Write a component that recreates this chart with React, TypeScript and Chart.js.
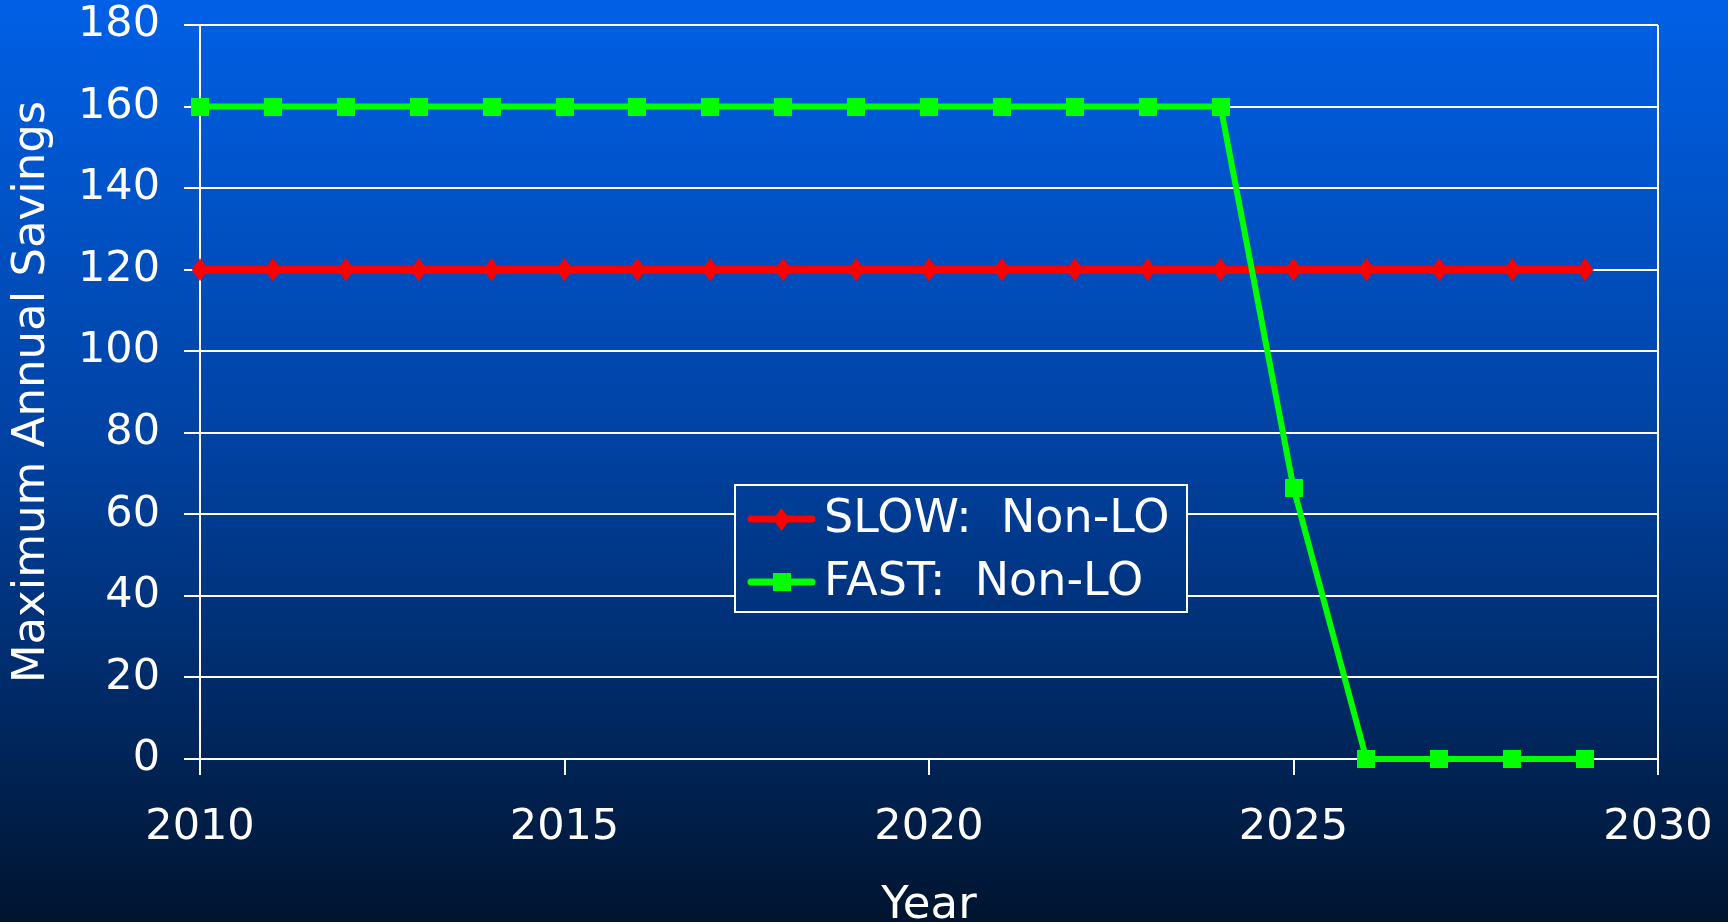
import React, { useEffect, useRef } from "react";
import { Chart, registerables } from "chart.js";

Chart.register(...registerables);

const years = [2010, 2011, 2012, 2013, 2014, 2015, 2016, 2017, 2018, 2019, 2020, 2021, 2022, 2023, 2024, 2025, 2026, 2027, 2028, 2029];
const slowValues = [120, 120, 120, 120, 120, 120, 120, 120, 120, 120, 120, 120, 120, 120, 120, 120, 120, 120, 120, 120];
const fastValues = [160, 160, 160, 160, 160, 160, 160, 160, 160, 160, 160, 160, 160, 160, 160, 66.5, 0, 0, 0, 0];
const seriesLabels = ["SLOW:  Non-LO", "FAST:  Non-LO"];
const xTicks = [2010, 2015, 2020, 2025, 2030];
const yTicks = [0, 20, 40, 60, 80, 100, 120, 140, 160, 180];

const W = 1728;
const H = 922;
const FONT = "'DejaVu Sans', Verdana, sans-serif";

function makeDiamond(color: string, w: number, h: number) {
  const c = document.createElement("canvas");
  c.width = w;
  c.height = h;
  const x = c.getContext("2d")!;
  x.fillStyle = color;
  x.beginPath();
  x.moveTo(w / 2, 0);
  x.lineTo(w, h / 2);
  x.lineTo(w / 2, h);
  x.lineTo(0, h / 2);
  x.closePath();
  x.fill();
  return c;
}

function makeSquare(color: string, s: number) {
  const c = document.createElement("canvas");
  c.width = s;
  c.height = s;
  const x = c.getContext("2d")!;
  x.fillStyle = color;
  x.fillRect(0, 0, s, s);
  return c;
}

function makeBg(ctx: CanvasRenderingContext2D) {
  const g = ctx.createLinearGradient(0, 0, 0, H);
  g.addColorStop(0, "#0060e6");
  g.addColorStop(0.5, "#00419f");
  g.addColorStop(1, "#00142f");
  return g;
}

const bgPlugin = {
  id: "bgPlugin",
  beforeDraw(chart: any) {
    const ctx = chart.ctx;
    ctx.save();
    ctx.fillStyle = makeBg(ctx);
    ctx.fillRect(0, 0, chart.width, chart.height);
    ctx.restore();
  },
};

const legendPlugin = {
  id: "customLegend",
  afterDraw(chart: any) {
    const ctx: CanvasRenderingContext2D = chart.ctx;
    const bx = 735, by = 485, bw = 452, bh = 127;
    ctx.save();
    ctx.fillStyle = makeBg(ctx);
    ctx.fillRect(bx, by, bw, bh);
    ctx.strokeStyle = "#ffffff";
    ctx.lineWidth = 2;
    ctx.strokeRect(bx, by, bw, bh);
    const rows = [519, 582];
    chart.data.datasets.forEach((ds: any, i: number) => {
      const y = rows[i];
      ctx.strokeStyle = ds.borderColor;
      ctx.lineWidth = 7;
      ctx.lineCap = "round";
      ctx.beginPath();
      ctx.moveTo(751, y);
      ctx.lineTo(812, y);
      ctx.stroke();
      const img = ds.pointStyle as HTMLCanvasElement;
      const cx = 781.5;
      ctx.drawImage(img, Math.round(cx - img.width / 2), Math.round(y - img.height / 2));
      ctx.fillStyle = "#ffffff";
      ctx.font = `46px ${FONT}`;
      ctx.textBaseline = "middle";
      ctx.textAlign = "left";
      ctx.fillText(ds.label, 824, y + 1);
    });
    ctx.restore();
  },
};

function zeroPad(s: any) {
  s.paddingTop = 0;
  s.paddingBottom = 0;
  s.paddingLeft = 0;
  s.paddingRight = 0;
}

export default function App() {
  const ref = useRef<HTMLCanvasElement>(null);

  useEffect(() => {
    if (!ref.current) return;
    const diamond = makeDiamond("#ff0000", 17, 23);
    const square = makeSquare("#00ff00", 18);
    const chart = new Chart(ref.current, {
      type: "line",
      data: {
        datasets: [
          {
            label: seriesLabels[0],
            data: years.map((y, i) => ({ x: y, y: slowValues[i] })),
            borderColor: "#ff0000",
            backgroundColor: "#ff0000",
            pointBackgroundColor: "#ff0000",
            pointBorderColor: "#ff0000",
            pointStyle: diamond,
            pointRadius: 10,
            pointBorderWidth: 0,
            borderWidth: 8,
            tension: 0,
            order: 1,
            clip: false,
          } as any,
          {
            label: seriesLabels[1],
            data: years.map((y, i) => ({ x: y, y: fastValues[i] })),
            borderColor: "#00ff00",
            backgroundColor: "#00ff00",
            pointBackgroundColor: "#00ff00",
            pointBorderColor: "#00ff00",
            pointStyle: square,
            pointRadius: 10,
            pointBorderWidth: 0,
            borderWidth: 6,
            tension: 0,
            order: 0,
            clip: false,
          } as any,
        ],
      },
      options: {
        animation: false,
        responsive: false,
        devicePixelRatio: 1,
        layout: { padding: { top: 25, right: 70, left: 0, bottom: 0 } },
        plugins: {
          legend: { display: false },
          tooltip: { enabled: false },
        },
        scales: {
          x: {
            type: "linear",
            min: xTicks[0],
            max: xTicks[xTicks.length - 1],
            afterFit: (s: any) => {
              s.height = 163;
              zeroPad(s);
            },
            afterBuildTicks: (s: any) => {
              s.ticks = xTicks.map((v) => ({ value: v }));
            },
            ticks: {
              color: "#ffffff",
              font: { family: FONT, size: 43 },
              padding: 27,
              maxRotation: 0,
              callback: (v: any) => String(v),
            },
            grid: {
              color: (c: any) => (c.tick && c.tick.value === 2030 ? "#ffffff" : "rgba(0,0,0,0)"),
              tickColor: "#ffffff",
              tickLength: 16,
              lineWidth: 2,
            },
            border: { color: "#ffffff", width: 2 },
            title: {
              display: true,
              text: "Year",
              color: "#ffffff",
              font: { family: FONT, size: 45, lineHeight: 0.7 },
              padding: { top: 0, bottom: 0 },
            },
          },
          y: {
            min: yTicks[0],
            max: yTicks[yTicks.length - 1],
            afterFit: (s: any) => {
              s.width = 200;
              zeroPad(s);
            },
            afterBuildTicks: (s: any) => {
              s.ticks = yTicks.map((v) => ({ value: v }));
            },
            ticks: {
              color: "#ffffff",
              font: { family: FONT, size: 43 },
              padding: 24,
            },
            grid: {
              color: "#ffffff",
              tickColor: "#ffffff",
              tickLength: 16,
              lineWidth: 2,
            },
            border: { color: "#ffffff", width: 2 },
            title: {
              display: true,
              text: "Maximum Annual Savings",
              color: "#ffffff",
              font: { family: FONT, size: 45, lineHeight: 1 },
              padding: { top: 10, bottom: 0 },
            },
          },
        },
      } as any,
      plugins: [bgPlugin, legendPlugin],
    });
    return () => chart.destroy();
  }, []);

  return (
    <div style={{ position: "fixed", left: 0, top: 0, width: W, height: H, background: "#00142f" }}>
      <canvas ref={ref} width={W} height={H} style={{ display: "block", width: W, height: H }} />
    </div>
  );
}
